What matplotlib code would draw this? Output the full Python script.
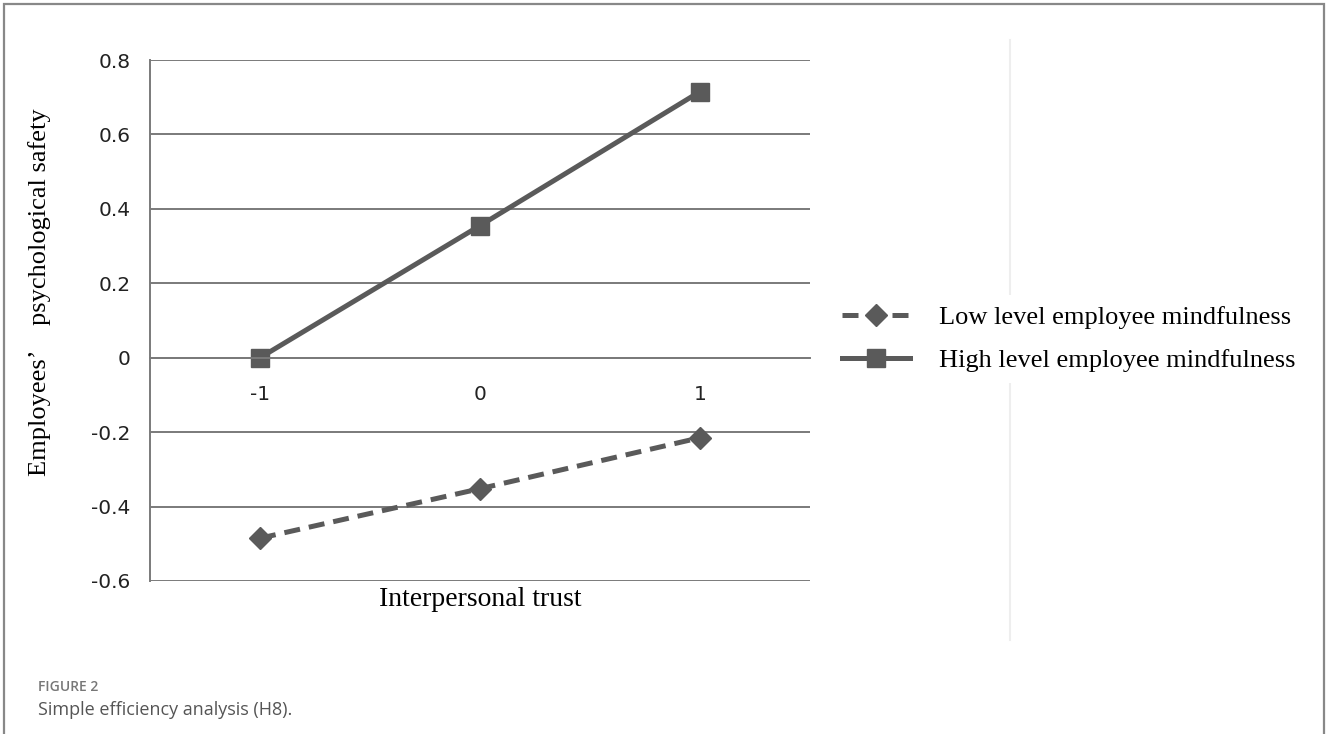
import matplotlib.pyplot as plt
from matplotlib.lines import Line2D
from matplotlib.patches import Rectangle

# data
trust_levels = [-1, 0, 1]
low_mindfulness = [-0.485, -0.352, -0.215]
high_mindfulness = [0.0, 0.355, 0.715]
y_ticks = [-0.6, -0.4, -0.2, 0, 0.2, 0.4, 0.6, 0.8]
y_ticklabels = ['-0.6', '-0.4', '-0.2', '0', '0.2', '0.4', '0.6', '0.8']
series_names = ['Low level employee mindfulness', 'High level employee mindfulness']

serif = ['Liberation Serif', 'DejaVu Serif']
sans = ['DejaVu Sans']

fig = plt.figure(figsize=(13.28, 7.34), dpi=100)
ax = fig.add_axes([150/1328, 1 - 581/734, 660/1328, 521/734])

line_col = '#5a5a5a'
grid_col = '#7a7a7a'

# spine position first, it resets the tick objects
for s in ['top', 'right']:
    ax.spines[s].set_visible(False)
ax.spines['bottom'].set_position(('data', 0))
ax.spines['bottom'].set_color(grid_col)
ax.spines['bottom'].set_linewidth(1.4)
ax.spines['left'].set_color(grid_col)
ax.spines['left'].set_linewidth(1.4)

ax.plot(trust_levels, low_mindfulness, color=line_col, lw=3.6, ls=(0, (3.2, 1.8)),
        marker='D', markersize=11, label=series_names[0])
ax.plot(trust_levels, high_mindfulness, color=line_col, lw=3.6, ls='-',
        marker='s', markersize=13.5, label=series_names[1])

ax.set_xlim(-1.5, 1.5)
ax.set_ylim(-0.6, 0.8)
ax.set_yticks(y_ticks)
ax.set_yticklabels(y_ticklabels, family=sans, fontsize=14.5, color='#222222')
ax.set_xticks(trust_levels)
ax.set_xticklabels([str(v) for v in trust_levels], family=sans, fontsize=14.5,
                   color='#222222')

ax.grid(axis='y', color=grid_col, lw=1.4)
ax.set_axisbelow(True)
ax.tick_params(axis='x', length=0, labelsize=14.5, pad=20)
ax.tick_params(axis='y', length=0, labelsize=14.5, pad=14)

fig.text(40/1328, 1 - 292/734, 'Employees’    psychological safety', family=serif,
         fontsize=19, rotation=90, ha='center', va='center')
fig.text(480/1328, 1 - 600/734, 'Interpersonal trust', family=serif,
         fontsize=20, ha='center', va='center')

# faint vertical line on the right side of the original image (drawn under the legend)
fig.add_artist(Line2D([1010/1328, 1010/1328], [1 - 40/734, 1 - 640/734],
                      color='#eeeeee', lw=1.5, transform=fig.transFigure, zorder=0))

leg = fig.legend(*ax.get_legend_handles_labels(), loc='center left',
                 bbox_to_anchor=(818/1328, 1 - 339/734), frameon=True,
                 facecolor='white', edgecolor='none', framealpha=1, fancybox=False,
                 prop={'family': serif, 'size': 19}, handlelength=2.6,
                 handletextpad=1.1, labelspacing=0.75)
leg.set_zorder(5)

# caption
fig.text(38/1328, 1 - 687/734, 'FIGURE 2', family=['Open Sans', 'DejaVu Sans'],
         fontsize=10, color='#777777', va='center', weight='semibold')
fig.text(38/1328, 1 - 710/734, 'Simple efficiency analysis (H8).',
         family=['Open Sans', 'DejaVu Sans'], fontsize=13, color='#555555', va='center')

# outer frame
fig.add_artist(Rectangle((4/1328, -0.01), 1320/1328, 1 - 4/734 + 0.01, fill=False,
                         edgecolor='#888888', lw=1.6, transform=fig.transFigure))

fig.savefig('out.png', dpi=100)
